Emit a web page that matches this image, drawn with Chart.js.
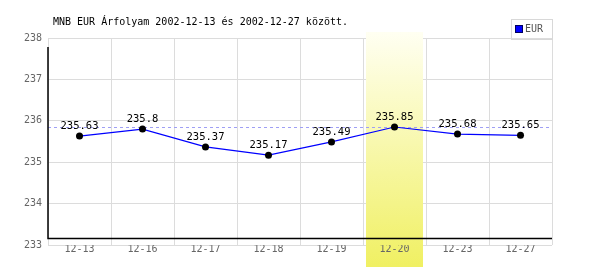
<!DOCTYPE html>
<html>
<head>
<meta charset="utf-8">
<script src="https://cdn.jsdelivr.net/npm/chart.js@4/dist/chart.umd.min.js"></script>
<style>
html,body{margin:0;padding:0;background:#fff;}
#wrap{width:600px;height:270px;}
</style>
</head>
<body>
<div id="wrap"><canvas id="c" width="600" height="270"></canvas></div>
<script>
const titleText = 'MNB EUR Árfolyam 2002-12-13 és 2002-12-27 között.';
const categories = ['12-13','12-16','12-17','12-18','12-19','12-20','12-23','12-27'];
const eurValues = [235.63, 235.8, 235.37, 235.17, 235.49, 235.85, 235.68, 235.65];
const yTicks = [233, 234, 235, 236, 237, 238];
const seriesLabel = 'EUR';
const highlightCategory = '12-20';

const FONT = '"DejaVu Sans Mono", "Liberation Mono", monospace';

const decor = {
  id: 'decor',
  beforeDatasetsDraw(chart) {
    const ctx = chart.ctx, ca = chart.chartArea;
    const xs = chart.scales.x, ys = chart.scales.y;
    const idx = categories.indexOf(highlightCategory);
    const colW = (ca.right - ca.left) / categories.length;
    const cx = xs.getPixelForValue(idx);
    const top = ca.top - 6, bot = chart.height - 3;
    const g = ctx.createLinearGradient(0, top, 0, bot);
    g.addColorStop(0, '#fffff2');
    g.addColorStop(1, '#f0f062');
    ctx.save();
    ctx.fillStyle = g;
    ctx.fillRect(Math.round(cx - colW/2 + 3), top, Math.round(colW - 6), bot - top);
    // max dashed line
    const maxV = Math.max(...eurValues);
    const my = Math.round(ys.getPixelForValue(maxV)) + 0.5;
    ctx.strokeStyle = '#9f9ff5';
    ctx.lineWidth = 1;
    ctx.setLineDash([3, 3]);
    ctx.beginPath();
    ctx.moveTo(ca.left, my);
    ctx.lineTo(ca.right, my);
    ctx.stroke();
    ctx.setLineDash([]);
    // black axes
    const axY = Math.round(ca.bottom - 7) + 0.5;
    ctx.strokeStyle = '#000';
    ctx.lineWidth = 1.5;
    ctx.beginPath();
    ctx.moveTo(ca.left, ca.top + 9);
    ctx.lineTo(ca.left, axY);
    ctx.lineTo(ca.right, axY);
    ctx.stroke();
    ctx.restore();
  },
  afterDatasetsDraw(chart) {
    const ctx = chart.ctx;
    const meta = chart.getDatasetMeta(0);
    ctx.save();
    ctx.font = '10.5px ' + FONT;
    ctx.fillStyle = '#000';
    ctx.textAlign = 'center';
    ctx.textBaseline = 'middle';
    meta.data.forEach((pt, i) => {
      ctx.fillText(String(eurValues[i]), pt.x, pt.y - 10);
    });
    ctx.restore();
  },
  afterDraw(chart) {
    const ctx = chart.ctx, ca = chart.chartArea;
    ctx.save();
    // title
    ctx.font = '10px ' + FONT;
    ctx.fillStyle = '#000';
    ctx.textAlign = 'left';
    ctx.textBaseline = 'middle';
    ctx.fillText(titleText, 53, 22);
    // legend
    const lr = ca.right, lw = 41, lh = 20, lt = 19;
    ctx.strokeStyle = '#d8d8d8';
    ctx.lineWidth = 1;
    ctx.strokeRect(lr - lw + 0.5, lt + 0.5, lw, lh);
    ctx.fillStyle = '#0000ff';
    ctx.fillRect(lr - lw + 5, lt + 7, 6, 6);
    ctx.strokeStyle = '#000060';
    ctx.strokeRect(lr - lw + 4.5, lt + 6.5, 7, 7);
    ctx.fillStyle = '#555';
    ctx.font = '10px ' + FONT;
    ctx.fillText(seriesLabel, lr - lw + 14, lt + 10.5);
    ctx.restore();
  }
};

new Chart(document.getElementById('c'), {
  type: 'line',
  data: {
    labels: categories,
    datasets: [{
      label: seriesLabel,
      data: eurValues,
      borderColor: '#0000ff',
      borderWidth: 1.2,
      tension: 0,
      fill: false,
      pointRadius: 3.5,
      pointBackgroundColor: '#000',
      pointBorderColor: '#000',
      pointBorderWidth: 0,
      pointHoverRadius: 3.5
    }]
  },
  options: {
    responsive: false,
    animation: false,
    events: [],
    layout: { padding: { top: 38, right: 48, left: 0, bottom: 0 } },
    plugins: { legend: { display: false }, title: { display: false }, tooltip: { enabled: false } },
    scales: {
      x: {
        type: 'category',
        offset: true,
        grid: { offset: true, color: '#dcdcdc', lineWidth: 1, drawTicks: false },
        border: { display: false },
        ticks: { z: 1, color: '#666', font: { family: FONT, size: 10 }, padding: -2, maxRotation: 0, autoSkip: false },
        afterFit(s) { s.height = 25; }
      },
      y: {
        min: yTicks[0],
        max: yTicks[yTicks.length - 1],
        afterBuildTicks(s) { s.ticks = yTicks.map(v => ({ value: v })); },
        grid: { color: '#dcdcdc', lineWidth: 1, drawTicks: false },
        border: { display: false },
        ticks: { color: '#666', font: { family: FONT, size: 10 }, padding: 6 },
        afterFit(s) { s.width = 48; }
      }
    }
  },
  plugins: [decor]
});
</script>
</body>
</html>
